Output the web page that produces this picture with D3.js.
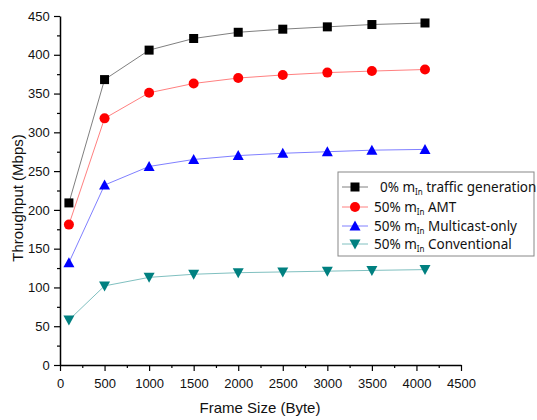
<!DOCTYPE html>
<html>
<head>
<meta charset="utf-8">
<script src="https://cdn.jsdelivr.net/npm/d3@7"></script>
<style>
  body { margin: 0; background: #fff; }
  svg text { font-family: "Liberation Sans", Arial, sans-serif; }
  svg text.leg { font-family: "Noto Sans", sans-serif; }
</style>
</head>
<body>
<div id="chart"></div>
<script>
var frameSizes = [100, 500, 1000, 1500, 2000, 2500, 3000, 3500, 4096];

var traffic0 = [209, 368, 406, 421, 429, 433, 436, 439, 441];
var amt50 = [181, 318, 351, 363, 370, 374, 377, 379, 381];
var mcast50 = [132, 232, 256, 265, 270, 273, 275, 277, 278];
var conv50 = [58, 102, 113, 117, 119, 120, 121, 122, 123];

var seriesNames = ["0% traffic generation", "50% AMT", "50% Multicast-only", "50% Conventional"];
var xTicks = [0, 500, 1000, 1500, 2000, 2500, 3000, 3500, 4000, 4500];
var yTicks = [0, 50, 100, 150, 200, 250, 300, 350, 400, 450];

var series = [
  {name: seriesNames[0], vals: traffic0, line: "#808080", mark: "#000000", shape: "square"},
  {name: seriesNames[1], vals: amt50, line: "#ff8080", mark: "#ff0000", shape: "circle"},
  {name: seriesNames[2], vals: mcast50, line: "#8080ff", mark: "#0000ff", shape: "up"},
  {name: seriesNames[3], vals: conv50, line: "#80c0c0", mark: "#008080", shape: "down"}
];

var width = 537, height = 420;
var margin = {left: 60, top: 16, right: 76, bottom: 55};
var plotW = width - margin.left - margin.right;
var plotH = height - margin.top - margin.bottom;

var svg = d3.select("#chart").append("svg")
    .attr("width", width)
    .attr("height", height);

var g = svg.append("g")
    .attr("transform", "translate(" + margin.left + "," + margin.top + ")");

var x = d3.scaleLinear().domain([0, 4500]).range([0, plotW]);
var y = d3.scaleLinear().domain([0, 450]).range([plotH, 0]);

// minor ticks
var xMinor = d3.range(250, 4500, 500);
var yMinor = d3.range(25, 450, 50);

var xAxis = g.append("g")
    .attr("transform", "translate(0," + plotH + ")")
    .call(d3.axisBottom(x).tickValues(xTicks).tickFormat(d3.format("d")).tickSize(6).tickSizeOuter(0));
g.append("g")
    .attr("transform", "translate(0," + plotH + ")")
    .call(d3.axisBottom(x).tickValues(xMinor).tickSize(3).tickFormat(""))
    .select(".domain").remove();

var yAxis = g.append("g")
    .call(d3.axisLeft(y).tickValues(yTicks).tickFormat(d3.format("d")).tickSize(6).tickSizeOuter(0));
g.append("g")
    .call(d3.axisLeft(y).tickValues(yMinor).tickSize(3).tickFormat(""))
    .select(".domain").remove();

g.selectAll(".domain").attr("stroke", "#000").attr("stroke-width", 1.5);
g.selectAll(".tick line").attr("stroke", "#000").attr("stroke-width", 1.2);
xAxis.selectAll("text").attr("font-size", "13px").attr("fill", "#111").attr("dy", "1.1em");
yAxis.selectAll("text").attr("font-size", "13px").attr("fill", "#111").attr("dx", "-0.1em");

// axis titles
svg.append("text")
    .attr("x", 260)
    .attr("y", 413)
    .attr("text-anchor", "middle")
    .attr("font-size", "15px")
    .attr("fill", "#111")
    .text("Frame Size (Byte)");

svg.append("text")
    .attr("transform", "translate(23,198) rotate(-90)")
    .attr("text-anchor", "middle")
    .attr("font-size", "15px")
    .attr("fill", "#111")
    .text("Throughput (Mbps)");

function drawMarker(sel, shape, color) {
  if (shape === "square") {
    sel.append("rect").attr("x", -4.5).attr("y", -4.5).attr("width", 9).attr("height", 9)
      .attr("fill", color);
  } else if (shape === "circle") {
    sel.append("circle").attr("r", 5).attr("fill", color);
  } else if (shape === "up") {
    sel.append("path").attr("d", "M0,-5.5 L5.5,4.5 L-5.5,4.5 Z").attr("fill", color);
  } else {
    sel.append("path").attr("d", "M0,5.5 L5.5,-4.5 L-5.5,-4.5 Z").attr("fill", color);
  }
}

var line = d3.line()
    .x(function(d, i) { return x(frameSizes[i]); })
    .y(function(d) { return y(d); });

series.forEach(function(s) {
  g.append("path")
    .datum(s.vals)
    .attr("fill", "none")
    .attr("stroke", s.line)
    .attr("stroke-width", 1)
    .attr("d", line);
  s.vals.forEach(function(v, i) {
    var m = g.append("g")
      .attr("transform", "translate(" + x(frameSizes[i]) + "," + y(v) + ")");
    drawMarker(m, s.shape, s.mark);
  });
});

// legend
var legend = svg.append("g").attr("transform", "translate(338,172)");
legend.append("rect")
    .attr("width", 196).attr("height", 84)
    .attr("fill", "#fff").attr("stroke", "#888").attr("stroke-width", 1);

var rows = [15, 35, 54, 72];
var labelParts = [["0% m", " traffic generation"], ["50% m", " AMT"], ["50% m", " Multicast-only"], ["50% m", " Conventional"]];
series.forEach(function(s, i) {
  var row = legend.append("g").attr("transform", "translate(0," + rows[i] + ")");
  row.append("line").attr("x1", 4).attr("x2", 30).attr("y1", 0).attr("y2", 0)
    .attr("stroke", s.line).attr("stroke-width", 1);
  var m = row.append("g").attr("transform", "translate(17,0)");
  drawMarker(m, s.shape, s.mark);
  var t = row.append("text")
    .attr("class", "leg")
    .attr("x", i === 0 ? 42 : 36)
    .attr("y", 5)
    .attr("font-size", "13.5px")
    .attr("fill", "#111");
  t.append("tspan").text(labelParts[i][0]);
  t.append("tspan").attr("font-size", "8px").attr("dy", 3).text("In");
  t.append("tspan").attr("dy", -3).text(labelParts[i][1]);
});
</script>
</body>
</html>
